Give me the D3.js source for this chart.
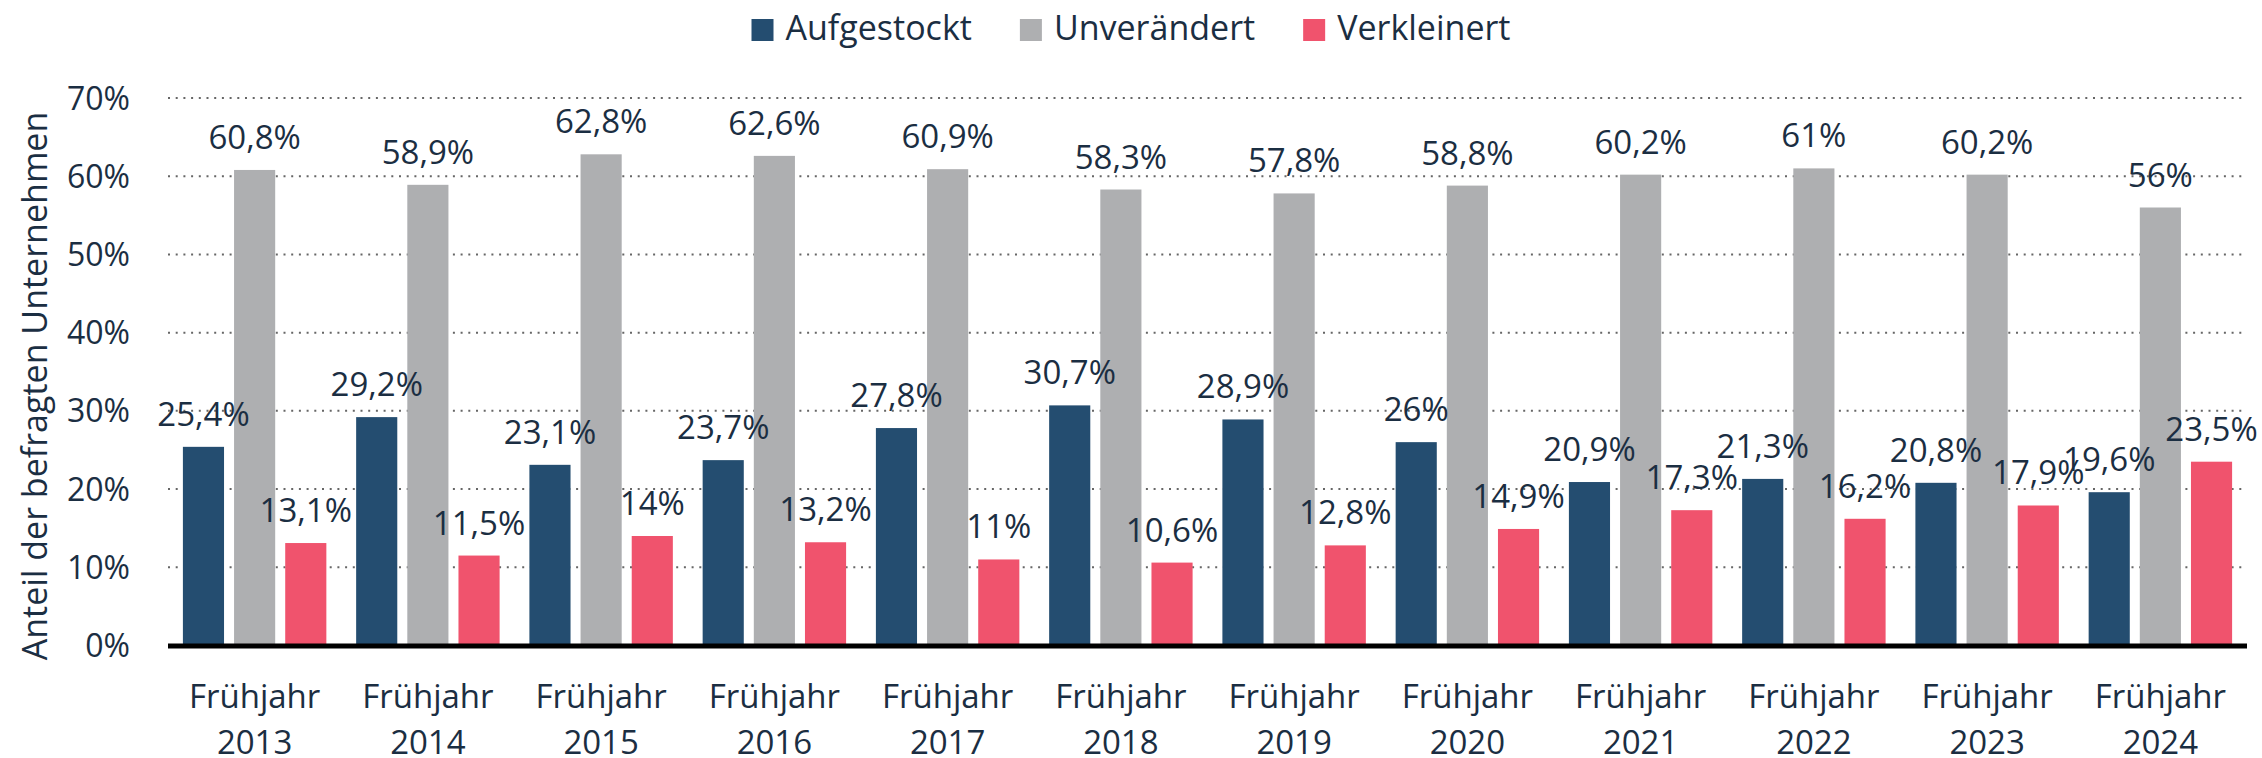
<!DOCTYPE html>
<html>
<head>
<meta charset="utf-8">
<title>Personalplanung</title>
<script src="https://d3js.org/d3.v7.min.js"></script>
<style>
  body { margin: 0; background: #fff; }
  svg text { font-family: "Open Sans", sans-serif; fill: #1b2e42; }
</style>
</head>
<body>
<div id="chart"></div>
<script>
// data
var years = ["2013", "2014", "2015", "2016", "2017", "2018", "2019", "2020", "2021", "2022", "2023", "2024"];
var series = ["Aufgestockt", "Unverändert", "Verkleinert"];
var aufgestockt = [25.4, 29.2, 23.1, 23.7, 27.8, 30.7, 28.9, 26, 20.9, 21.3, 20.8, 19.6];
var unveraendert = [60.8, 58.9, 62.8, 62.6, 60.9, 58.3, 57.8, 58.8, 60.2, 61, 60.2, 56];
var verkleinert = [13.1, 11.5, 14, 13.2, 11, 10.6, 12.8, 14.9, 17.3, 16.2, 17.9, 23.5];
var yTicks = [0, 10, 20, 30, 40, 50, 60, 70];
var colors = ["#244d70", "#aeafb1", "#f0536d"];

var width = 2262, height = 758;
var values = [aufgestockt, unveraendert, verkleinert];

var rows = years.map(function(y, i) {
  return { year: y, vals: series.map(function(s, j) { return { key: s, idx: j, v: values[j][i] }; }) };
});

var svg = d3.select("#chart").append("svg")
  .attr("width", width)
  .attr("height", height);

var x0 = d3.scaleBand()
  .domain(years)
  .range([168, 2247])
  .paddingInner(0.172)
  .paddingOuter(0.086);

var x1 = d3.scaleBand()
  .domain(series)
  .range([0, x0.bandwidth()])
  .paddingInner(0.196);

var y = d3.scaleLinear()
  .domain([0, 70])
  .range([645.5, 98]);

// gridlines
svg.append("g")
  .selectAll("line")
  .data(yTicks.filter(function(t) { return t > 0; }))
  .enter().append("line")
  .attr("x1", 168)
  .attr("x2", 2244)
  .attr("y1", function(d) { return y(d); })
  .attr("y2", function(d) { return y(d); })
  .attr("stroke", "#666")
  .attr("stroke-width", 2)
  .attr("stroke-dasharray", "2,5.7");

// y tick labels
svg.append("g")
  .selectAll("text")
  .data(yTicks)
  .enter().append("text")
  .attr("x", 130)
  .attr("y", function(d) { return y(d); })
  .attr("dy", "0.36em")
  .attr("text-anchor", "end")
  .style("font-size", "32px")
  .text(function(d) { return d + "%"; });

// y axis title
svg.append("text")
  .attr("transform", "translate(47,386) rotate(-90)")
  .attr("text-anchor", "middle")
  .style("font-size", "34px")
  .text("Anteil der befragten Unternehmen");

// bars
var groups = svg.append("g")
  .selectAll("g")
  .data(rows)
  .enter().append("g")
  .attr("transform", function(d) { return "translate(" + x0(d.year) + ",0)"; });

groups.selectAll("rect")
  .data(function(d) { return d.vals; })
  .enter().append("rect")
  .attr("x", function(d) { return x1(d.key); })
  .attr("width", x1.bandwidth())
  .attr("y", function(d) { return y(d.v); })
  .attr("height", function(d) { return y(0) - y(d.v); })
  .attr("fill", function(d) { return colors[d.idx]; });

// value labels
groups.selectAll("text.val")
  .data(function(d) { return d.vals; })
  .enter().append("text")
  .attr("class", "val")
  .attr("x", function(d) { return x1(d.key) + x1.bandwidth() / 2; })
  .attr("y", function(d) { return y(d.v) - 21; })
  .attr("text-anchor", "middle")
  .style("font-size", "33px")
  .text(function(d) { return String(d.v).replace(".", ",") + "%"; });

// baseline
svg.append("line")
  .attr("x1", 168)
  .attr("x2", 2247)
  .attr("y1", 646)
  .attr("y2", 646)
  .attr("stroke", "#000")
  .attr("stroke-width", 5);

// x labels
var xl = svg.append("g")
  .selectAll("text")
  .data(years)
  .enter().append("text")
  .attr("x", function(d) { return x0(d) + x0.bandwidth() / 2; })
  .attr("y", 708)
  .attr("text-anchor", "middle")
  .style("font-size", "33px");
xl.append("tspan")
  .attr("x", function(d) { return x0(d) + x0.bandwidth() / 2; })
  .text("Frühjahr");
xl.append("tspan")
  .attr("x", function(d) { return x0(d) + x0.bandwidth() / 2; })
  .attr("dy", 46)
  .text(function(d) { return d; });

// legend
var legend = svg.append("g");
var lx = 0;
var items = legend.selectAll("g")
  .data(series)
  .enter().append("g");
items.append("rect")
  .attr("y", 19)
  .attr("width", 22)
  .attr("height", 22)
  .attr("fill", function(d, i) { return colors[i]; });
items.append("text")
  .attr("x", 34)
  .attr("y", 40)
  .style("font-size", "34px")
  .text(function(d) { return d; });
items.each(function() {
  var g = d3.select(this);
  g.attr("transform", "translate(" + lx + ",0)");
  lx += this.getBBox().width + 48;
});
var legendW = lx - 48;
legend.attr("transform", "translate(" + (width / 2 - legendW / 2) + ",0)");
</script>
</body>
</html>
